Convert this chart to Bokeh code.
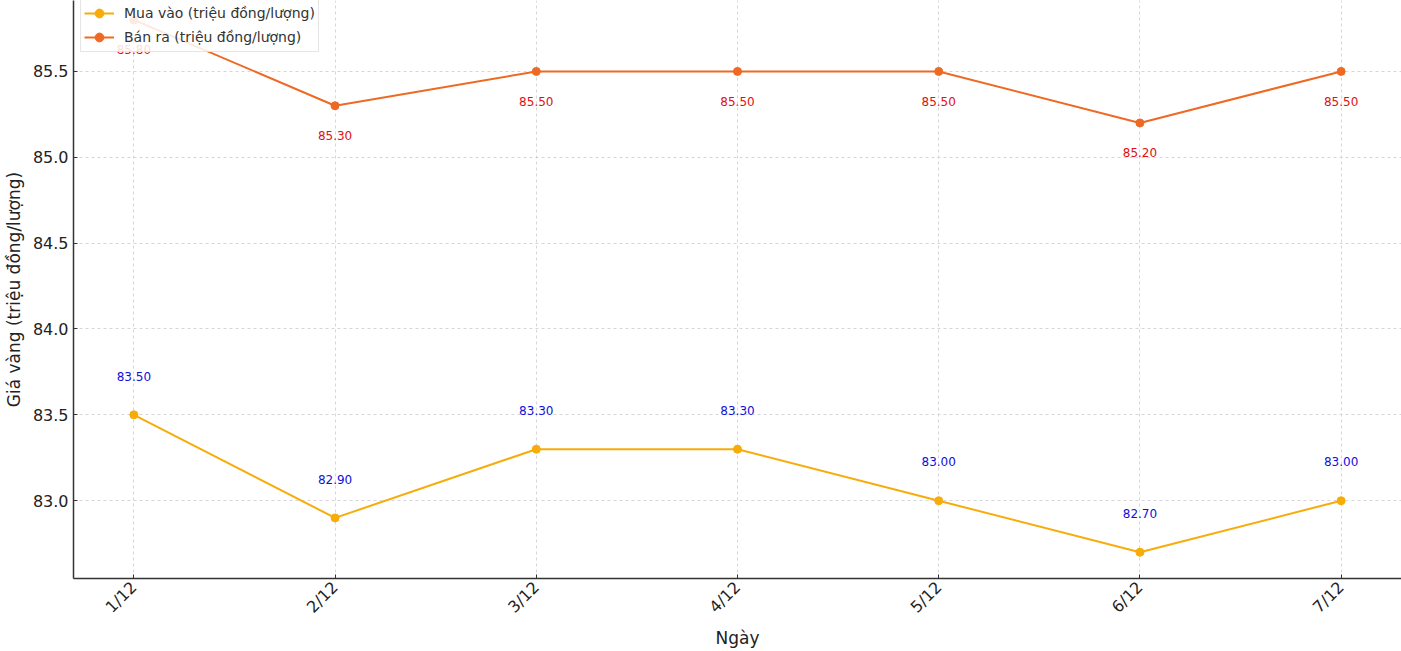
import math
from bokeh.plotting import figure
from bokeh.models import Range1d, FixedTicker, ColumnDataSource, Legend, LegendItem
from bokeh.embed import file_html
from bokeh.resources import INLINE
from bokeh.core.properties import value

dates = ["1/12", "2/12", "3/12", "4/12", "5/12", "6/12", "7/12"]
buy = [83.50, 82.90, 83.30, 83.30, 83.00, 82.70, 83.00]
sell = [85.80, 85.30, 85.50, 85.50, 85.50, 85.20, 85.50]
y_ticks = [83.0, 83.5, 84.0, 84.5, 85.0, 85.5]

FONT = "DejaVu Sans"
BUY_COLOR = "#F7AC0A"
SELL_COLOR = "#EE6A24"

xs = list(range(len(dates)))

p = figure(width=1401, height=651, output_backend="svg", toolbar_location=None,
           x_range=Range1d(-0.3, len(dates) - 1 + 0.3),
           y_range=Range1d(82.547, 85.913),
           min_border_left=65, min_border_right=0, min_border_top=0, min_border_bottom=60)

src = ColumnDataSource(dict(
    x=xs, buy=buy, sell=sell,
    buy_lab=[f"{v:.2f}" for v in buy], sell_lab=[f"{v:.2f}" for v in sell],
    buy_ly=[v + 0.2 for v in buy], sell_ly=[v - 0.2 for v in sell],
))

l1 = p.line("x", "buy", source=src, line_color=BUY_COLOR, line_width=2)
c1 = p.scatter("x", "buy", source=src, size=8, fill_color=BUY_COLOR, line_color=BUY_COLOR)
l2 = p.line("x", "sell", source=src, line_color=SELL_COLOR, line_width=2)
c2 = p.scatter("x", "sell", source=src, size=8, fill_color=SELL_COLOR, line_color=SELL_COLOR)

p.text("x", "buy_ly", text="buy_lab", source=src, text_color="#1010DD",
       text_font=value(FONT), text_font_size="12px", text_align="center",
       text_baseline="bottom")
p.text("x", "sell_ly", text="sell_lab", source=src, text_color="#E01010",
       text_font=value(FONT), text_font_size="12px", text_align="center",
       text_baseline="bottom")

legend = Legend(items=[
    LegendItem(label="Mua vào (triệu đồng/lượng)", renderers=[l1, c1]),
    LegendItem(label="Bán ra (triệu đồng/lượng)", renderers=[l2, c2]),
], location=(7, 526))
legend.label_text_font = FONT
legend.label_text_font_size = "14px"
legend.label_text_color = "#333333"
legend.border_line_color = "#cccccc"
legend.background_fill_alpha = 0.85
legend.margin = 0
legend.padding = 3
legend.spacing = 2
legend.glyph_width = 30
legend.glyph_height = 22
legend.label_height = 22
legend.label_standoff = 10
p.add_layout(legend)

p.xaxis.ticker = FixedTicker(ticks=xs)
p.xaxis.major_label_overrides = {i: d for i, d in enumerate(dates)}
p.xaxis.major_label_orientation = math.pi / 4
p.xaxis.major_label_text_align = "center"
p.yaxis.ticker = FixedTicker(ticks=y_ticks)
p.yaxis.major_label_overrides = {t: f"{t:.1f}" for t in y_ticks}

p.xaxis.axis_label = "Ngày"
p.yaxis.axis_label = "Giá vàng (triệu đồng/lượng)"

for ax in (p.xaxis, p.yaxis):
    ax.axis_label_text_font = FONT
    ax.axis_label_text_font_size = "17px"
    ax.axis_label_text_font_style = "normal"
    ax.axis_label_text_color = "#222222"
    ax.major_label_text_font = FONT
    ax.major_label_text_font_size = "16px"
    ax.major_label_text_color = "#222222"
    ax.axis_line_color = "#333333"
    ax.axis_line_width = 1.5
    ax.major_tick_in = 4
    ax.major_tick_out = 0
    ax.major_tick_line_color = "#333333"
    ax.minor_tick_line_color = None

p.xaxis.axis_label_standoff = 2
p.xaxis.major_label_standoff = 6
p.yaxis.axis_label_standoff = 6

p.grid.grid_line_color = "#cccccc"
p.grid.grid_line_dash = "3 3"
p.grid.grid_line_width = 0.8
p.outline_line_color = None

open("out.html", "w").write(file_html(p, INLINE))
